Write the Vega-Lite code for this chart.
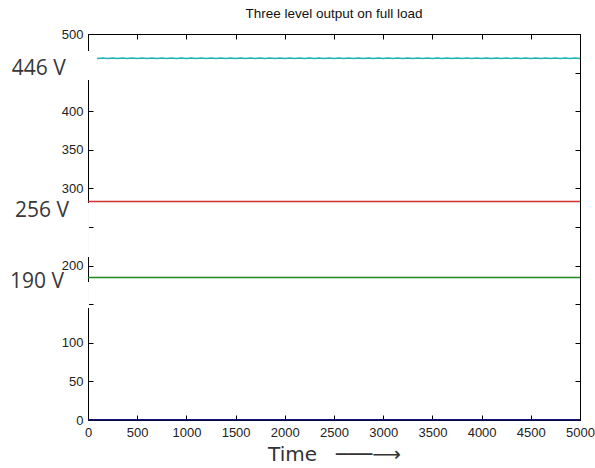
{
  "$schema": "https://vega.github.io/schema/vega-lite/v6.json",
  "width": 492,
  "height": 386,
  "autosize": "none",
  "padding": {"left": 88, "top": 34, "right": 15, "bottom": 48},
  "background": "white",
  "title": {"text": "Three level output on full load", "font": "Liberation Sans", "fontSize": 13.5, "fontWeight": "normal", "color": "#111111", "offset": 8, "anchor": "middle"},
  "config": {
    "view": {"stroke": "black", "strokeWidth": 1},
    "axis": {"domainColor": "black", "tickColor": "black", "labelFont": "Liberation Sans", "labelFontSize": 13, "labelColor": "#222222", "grid": false, "tickSize": -5, "domainWidth": 1, "tickWidth": 1, "format": "d", "labelFlush": false, "labelOverlap": false},
    "axisX": {"labelPadding": 11},
    "axisY": {"labelPadding": 10}
  },
  "datasets": {
    "lines": [
      {"series": "blue", "t": 0, "v": 0.4}, {"series": "blue", "t": 5000, "v": 0.4},
      {"series": "green", "t": 0, "v": 184.5}, {"series": "green", "t": 2000, "v": 184.5}, {"series": "green", "t": 5000, "v": 184.5},
      {"series": "red", "t": 0, "v": 283}, {"series": "red", "t": 2500, "v": 283}, {"series": "red", "t": 5000, "v": 283},
      {"series": "cyan", "t": 0, "v": 468.2}, {"series": "cyan", "t": 50, "v": 469.0}, {"series": "cyan", "t": 100, "v": 468.2}, {"series": "cyan", "t": 150, "v": 469.0},
      {"series": "cyan", "t": 200, "v": 468.2}, {"series": "cyan", "t": 250, "v": 469.0}, {"series": "cyan", "t": 300, "v": 468.2}, {"series": "cyan", "t": 350, "v": 469.0},
      {"series": "cyan", "t": 400, "v": 468.2}, {"series": "cyan", "t": 450, "v": 469.0}, {"series": "cyan", "t": 500, "v": 468.2}, {"series": "cyan", "t": 550, "v": 469.0},
      {"series": "cyan", "t": 600, "v": 468.2}, {"series": "cyan", "t": 650, "v": 469.0}, {"series": "cyan", "t": 700, "v": 468.2}, {"series": "cyan", "t": 750, "v": 469.0},
      {"series": "cyan", "t": 800, "v": 468.2}, {"series": "cyan", "t": 850, "v": 469.0}, {"series": "cyan", "t": 900, "v": 468.2}, {"series": "cyan", "t": 950, "v": 469.0},
      {"series": "cyan", "t": 1000, "v": 468.2}, {"series": "cyan", "t": 1050, "v": 469.0}, {"series": "cyan", "t": 1100, "v": 468.2}, {"series": "cyan", "t": 1150, "v": 469.0},
      {"series": "cyan", "t": 1200, "v": 468.2}, {"series": "cyan", "t": 1250, "v": 469.0}, {"series": "cyan", "t": 1300, "v": 468.2}, {"series": "cyan", "t": 1350, "v": 469.0},
      {"series": "cyan", "t": 1400, "v": 468.2}, {"series": "cyan", "t": 1450, "v": 469.0}, {"series": "cyan", "t": 1500, "v": 468.2}, {"series": "cyan", "t": 1550, "v": 469.0},
      {"series": "cyan", "t": 1600, "v": 468.2}, {"series": "cyan", "t": 1650, "v": 469.0}, {"series": "cyan", "t": 1700, "v": 468.2}, {"series": "cyan", "t": 1750, "v": 469.0},
      {"series": "cyan", "t": 1800, "v": 468.2}, {"series": "cyan", "t": 1850, "v": 469.0}, {"series": "cyan", "t": 1900, "v": 468.2}, {"series": "cyan", "t": 1950, "v": 469.0},
      {"series": "cyan", "t": 2000, "v": 468.2}, {"series": "cyan", "t": 2050, "v": 469.0}, {"series": "cyan", "t": 2100, "v": 468.2}, {"series": "cyan", "t": 2150, "v": 469.0},
      {"series": "cyan", "t": 2200, "v": 468.2}, {"series": "cyan", "t": 2250, "v": 469.0}, {"series": "cyan", "t": 2300, "v": 468.2}, {"series": "cyan", "t": 2350, "v": 469.0},
      {"series": "cyan", "t": 2400, "v": 468.2}, {"series": "cyan", "t": 2450, "v": 469.0}, {"series": "cyan", "t": 2500, "v": 468.2}, {"series": "cyan", "t": 2550, "v": 469.0},
      {"series": "cyan", "t": 2600, "v": 468.2}, {"series": "cyan", "t": 2650, "v": 469.0}, {"series": "cyan", "t": 2700, "v": 468.2}, {"series": "cyan", "t": 2750, "v": 469.0},
      {"series": "cyan", "t": 2800, "v": 468.2}, {"series": "cyan", "t": 2850, "v": 469.0}, {"series": "cyan", "t": 2900, "v": 468.2}, {"series": "cyan", "t": 2950, "v": 469.0},
      {"series": "cyan", "t": 3000, "v": 468.2}, {"series": "cyan", "t": 3050, "v": 469.0}, {"series": "cyan", "t": 3100, "v": 468.2}, {"series": "cyan", "t": 3150, "v": 469.0},
      {"series": "cyan", "t": 3200, "v": 468.2}, {"series": "cyan", "t": 3250, "v": 469.0}, {"series": "cyan", "t": 3300, "v": 468.2}, {"series": "cyan", "t": 3350, "v": 469.0},
      {"series": "cyan", "t": 3400, "v": 468.2}, {"series": "cyan", "t": 3450, "v": 469.0}, {"series": "cyan", "t": 3500, "v": 468.2}, {"series": "cyan", "t": 3550, "v": 469.0},
      {"series": "cyan", "t": 3600, "v": 468.2}, {"series": "cyan", "t": 3650, "v": 469.0}, {"series": "cyan", "t": 3700, "v": 468.2}, {"series": "cyan", "t": 3750, "v": 469.0},
      {"series": "cyan", "t": 3800, "v": 468.2}, {"series": "cyan", "t": 3850, "v": 469.0}, {"series": "cyan", "t": 3900, "v": 468.2}, {"series": "cyan", "t": 3950, "v": 469.0},
      {"series": "cyan", "t": 4000, "v": 468.2}, {"series": "cyan", "t": 4050, "v": 469.0}, {"series": "cyan", "t": 4100, "v": 468.2}, {"series": "cyan", "t": 4150, "v": 469.0},
      {"series": "cyan", "t": 4200, "v": 468.2}, {"series": "cyan", "t": 4250, "v": 469.0}, {"series": "cyan", "t": 4300, "v": 468.2}, {"series": "cyan", "t": 4350, "v": 469.0},
      {"series": "cyan", "t": 4400, "v": 468.2}, {"series": "cyan", "t": 4450, "v": 469.0}, {"series": "cyan", "t": 4500, "v": 468.2}, {"series": "cyan", "t": 4550, "v": 469.0},
      {"series": "cyan", "t": 4600, "v": 468.2}, {"series": "cyan", "t": 4650, "v": 469.0}, {"series": "cyan", "t": 4700, "v": 468.2}, {"series": "cyan", "t": 4750, "v": 469.0},
      {"series": "cyan", "t": 4800, "v": 468.2}, {"series": "cyan", "t": 4850, "v": 469.0}, {"series": "cyan", "t": 4900, "v": 468.2}, {"series": "cyan", "t": 4950, "v": 469.0},
      {"series": "cyan", "t": 5000, "v": 468.2}
    ],
    "patches": [
      {"x1": -894, "x2": 91, "y1": 440.4, "y2": 478},
      {"x1": -894, "x2": 10, "y1": 211, "y2": 281},
      {"x1": -894, "x2": 10, "y1": 145, "y2": 178.8}
    ],
    "labels": [
      {"label": "446 V", "lx": -500, "ly": 447},
      {"label": "256 V", "lx": -467, "ly": 263},
      {"label": "190 V", "lx": -518, "ly": 171}
    ]
  },
  "layer": [
    {
      "data": {"name": "lines"},
      "mark": {"type": "line", "strokeWidth": 1.4},
      "encoding": {
        "x": {"field": "t", "type": "quantitative", "scale": {"domain": [0, 5000], "nice": false},
              "axis": {"orient": "bottom", "values": [0, 500, 1000, 1500, 2000, 2500, 3000, 3500, 4000, 4500, 5000], "title": "Time\u00a0\u00a0\u00a0───⟶", "titleFont": "DejaVu Sans", "titleFontSize": 20, "titleFontWeight": "normal", "titleColor": "#333333", "titlePadding": 5}},
        "y": {"field": "v", "type": "quantitative", "scale": {"domain": [0, 500], "nice": false, "zero": false},
              "axis": {"orient": "left", "values": [0, 50, 100, 150, 200, 250, 300, 350, 400, 450, 500], "title": null,
                       "labelExpr": "datum.value == 450 || datum.value == 250 || datum.value == 150 ? '' : datum.label"}},
        "color": {"field": "series", "type": "nominal", "scale": {"domain": ["blue", "green", "red", "cyan"], "range": ["#14147a", "#1f8a1f", "#d43030", "#1fb3b3"]}, "legend": null}
      }
    },
    {
      "data": {"name": "lines"},
      "mark": {"type": "point", "opacity": 0},
      "encoding": {
        "x": {"field": "t", "type": "quantitative", "scale": {"domain": [0, 5000], "nice": false},
              "axis": {"orient": "top", "values": [0, 500, 1000, 1500, 2000, 2500, 3000, 3500, 4000, 4500, 5000], "labels": false, "title": null}},
        "y": {"field": "v", "type": "quantitative", "scale": {"domain": [0, 500], "nice": false, "zero": false},
              "axis": {"orient": "right", "values": [0, 50, 100, 150, 200, 250, 300, 350, 400, 450, 500], "labels": false, "title": null}}
      }
    },
    {
      "data": {"name": "patches"},
      "mark": {"type": "rect", "fill": "white", "stroke": null},
      "encoding": {
        "x": {"field": "x1", "type": "quantitative", "scale": {"domain": [0, 5000], "nice": false}, "axis": null},
        "x2": {"field": "x2"},
        "y": {"field": "y1", "type": "quantitative", "scale": {"domain": [0, 500], "nice": false, "zero": false}, "axis": null},
        "y2": {"field": "y2"}
      }
    },
    {
      "data": {"name": "labels"},
      "mark": {"type": "text", "font": "Open Sans", "fontSize": 21, "align": "center", "baseline": "alphabetic", "color": "#383838"},
      "encoding": {
        "x": {"field": "lx", "type": "quantitative", "scale": {"domain": [0, 5000], "nice": false}, "axis": null},
        "y": {"field": "ly", "type": "quantitative", "scale": {"domain": [0, 500], "nice": false, "zero": false}, "axis": null},
        "text": {"field": "label"}
      }
    }
  ],
  "resolve": {"axis": {"x": "independent", "y": "independent"}}
}
